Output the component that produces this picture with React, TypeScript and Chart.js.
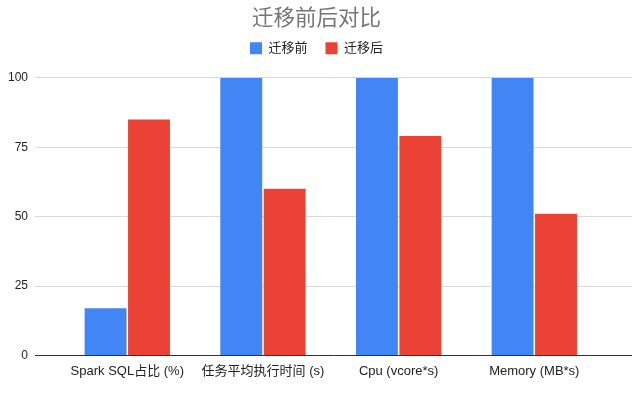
import React, { useEffect, useRef } from "react";
import { Chart, registerables } from "chart.js";

Chart.register(...registerables);

const TITLE = "迁移前后对比";
const categories = ["Spark SQL占比 (%)", "任务平均执行时间 (s)", "Cpu (vcore*s)", "Memory (MB*s)"];
const seriesNames = ["迁移前", "迁移后"];
const beforeValues = [17, 100, 100, 100];
const afterValues = [85, 60, 79, 51];
const yTicks = [0, 25, 50, 75, 100];

const FONT = "'Liberation Sans', Arial, 'Noto Sans CJK SC', sans-serif";

const legendTweak = {
  id: "legendTweak",
  beforeInit(chart: any) {
    const lg = chart.legend;
    const origFit = lg.fit;
    lg.fit = function () {
      origFit.call(this);
      this.height += 5;
    };
    const origDraw = lg.draw;
    lg.draw = function (...args: any[]) {
      const c = this.ctx;
      c.save();
      c.translate(0, -8);
      origDraw.apply(this, args);
      c.restore();
    };
  },
};

export default function App() {
  const ref = useRef<HTMLCanvasElement | null>(null);
  useEffect(() => {
    document.body.style.margin = "0";
    const ctx = ref.current!;
    const chart = new Chart(ctx, {
      type: "bar",
      data: {
        datasets: [
          {
            label: seriesNames[0],
            data: beforeValues.map((v, i) => ({ x: i, y: v })),
            backgroundColor: "#4285F4",
            borderWidth: 0,
          },
          {
            label: seriesNames[1],
            data: afterValues.map((v, i) => ({ x: i, y: v })),
            backgroundColor: "#EA4335",
            borderWidth: 0,
          },
        ],
      },
      plugins: [legendTweak],
      options: {
        responsive: false,
        animation: false,
        datasets: { bar: { categoryPercentage: 0.64, barPercentage: 0.965 } },
        layout: { padding: { left: 1, right: 9, top: 0, bottom: 16 } },
        plugins: {
          title: {
            display: true,
            text: TITLE,
            color: "#757575",
            font: { family: FONT, size: 21.5, weight: "normal" },
            padding: { top: 6, bottom: 0 },
          },
          legend: {
            display: true,
            position: "top",
            labels: {
              boxWidth: 12,
              boxHeight: 12,
              color: "#222",
              font: { family: FONT, size: 13 },
              padding: 18,
            },
          },
          tooltip: { enabled: false },
        },
        scales: {
          x: {
            type: "linear",
            offset: false,
            min: -0.68,
            max: 3.72,
            grid: { display: false },
            border: { display: false },
            afterBuildTicks: (scale: any) => {
              scale.ticks = categories.map((_, i) => ({ value: i }));
            },
            ticks: {
              autoSkip: false,
              maxRotation: 0,
              color: "#222",
              font: { family: FONT, size: 13 },
              padding: 0,
              callback: (v: any) => categories[v as number] ?? "",
            },
          },
          y: {
            min: 0,
            max: 100,
            afterBuildTicks: (scale: any) => {
              scale.ticks = yTicks.map((v) => ({ value: v }));
            },
            grid: {
              color: (c: any) => (c.tick && c.tick.value === 0 ? "#333" : "#d9d9d9"),
              drawTicks: false,
            },
            border: { display: false },
            ticks: {
              color: "#222",
              font: { family: FONT, size: 12 },
              padding: 7,
            },
          },
        },
      },
    });
    return () => chart.destroy();
  }, []);
  return (
    <div style={{ position: "fixed", left: 0, top: 0, width: 641, height: 395, background: "#fff" }}>
      <canvas ref={ref} width={641} height={395} />
    </div>
  );
}
